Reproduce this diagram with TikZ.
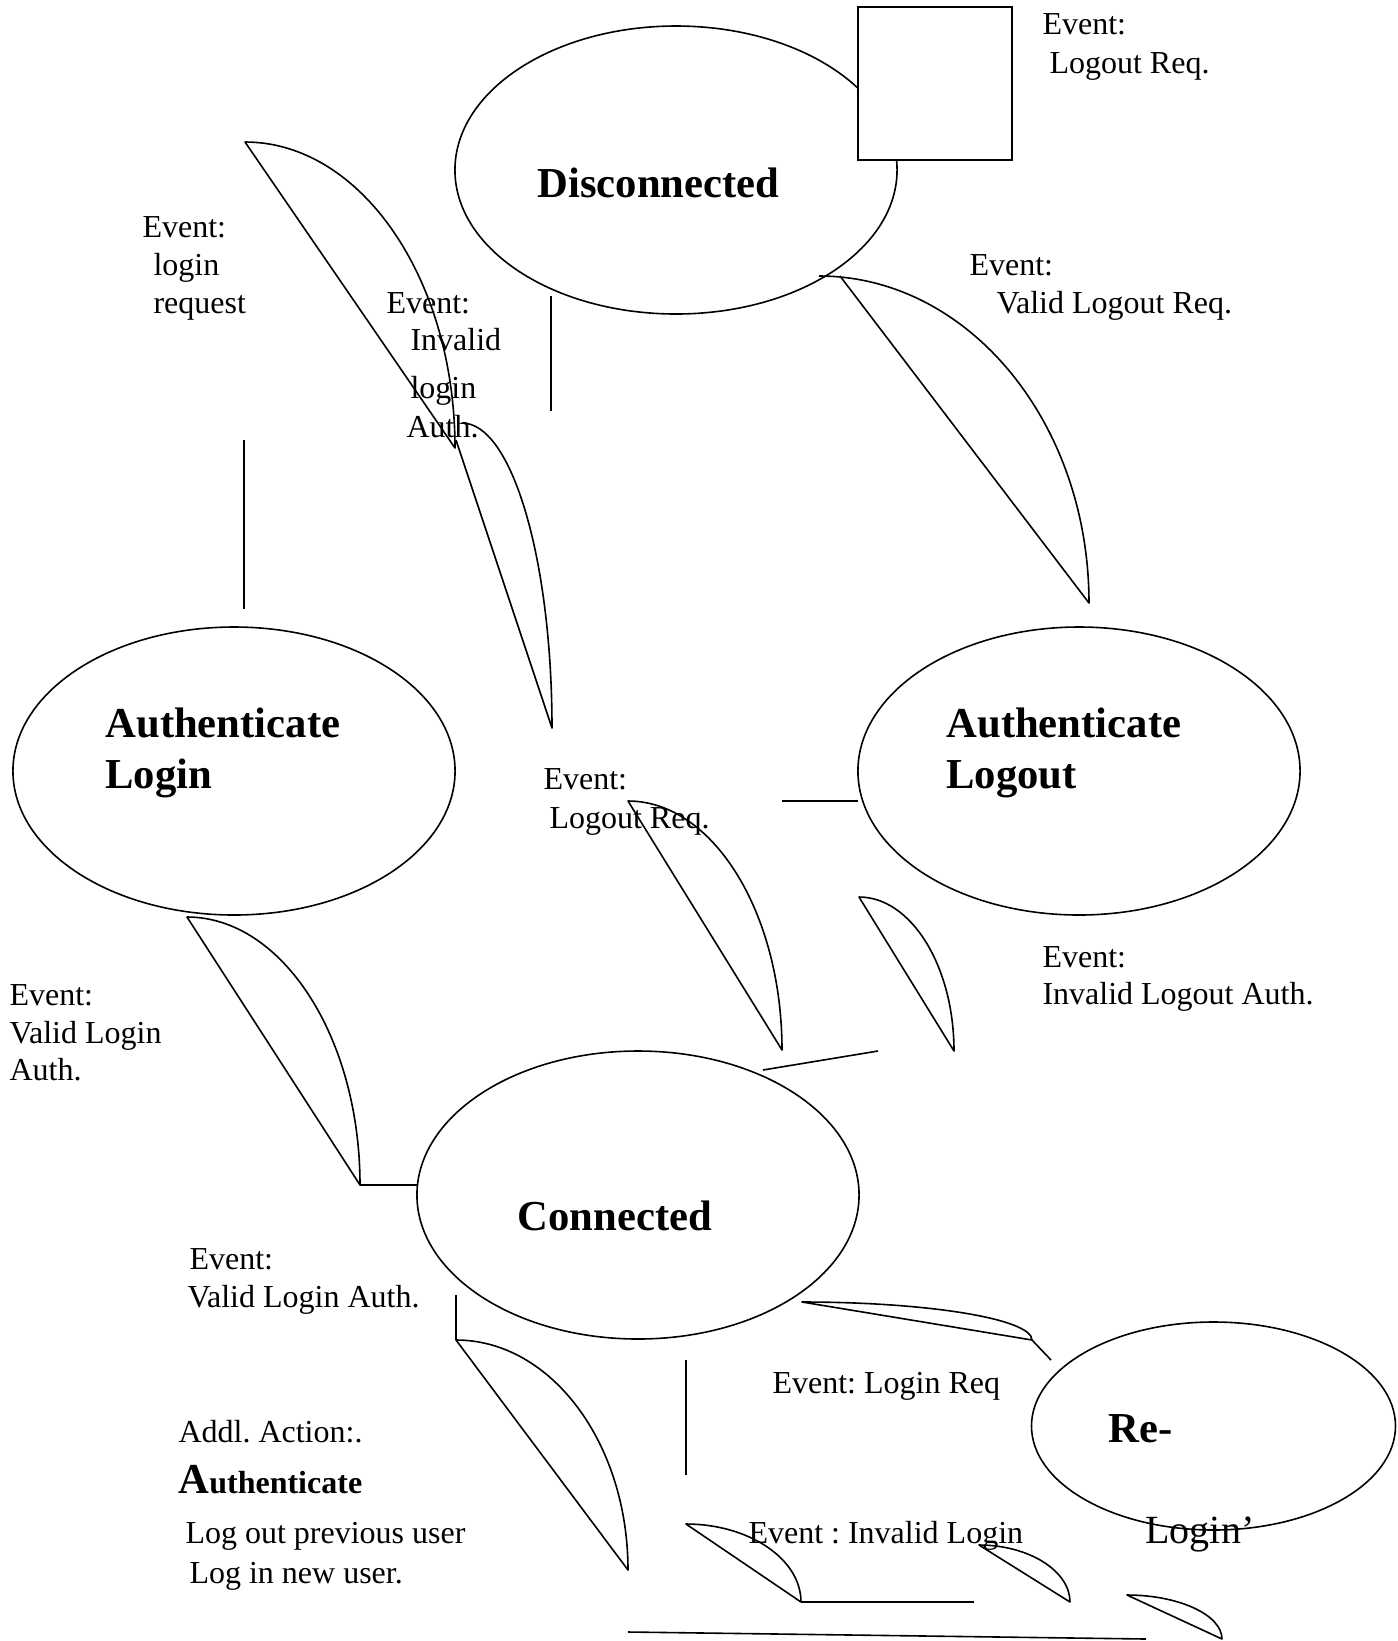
\documentclass[tikz,border=0pt]{standalone}
\usepackage{fontspec}
\setmainfont{Liberation Serif}
\frenchspacing
\usetikzlibrary{shapes.geometric}
\tikzset{
    state/.style = {ellipse, draw=black, line width=0.6pt, inner sep=0pt, minimum width=165.8pt, minimum height=108pt},
    smallstate/.style = {state, minimum width=136.5pt, minimum height=78pt},
    box/.style = {rectangle, draw=black, line width=0.6pt, fill=white, inner sep=0pt, minimum width=57.75pt, minimum height=57.4pt},
    evt/.style = {anchor=base west, inner sep=0pt, font=\fontsize{12}{14}\selectfont},
    stname/.style = {anchor=base west, inner sep=0pt, font=\fontsize{16}{19}\selectfont\bfseries},
    edgew/.style = {line width=0.6pt, line join=round}, % wedge
    edgel/.style = {line width=0.6pt} % plain line
}

\begin{document}
\begin{tikzpicture}[x=0.375pt, y=-0.375pt]
\useasboundingbox (0,0) rectangle (1398,1641);

% states
\node[state] at (676,170) (disc) {};
\node[box] at (935,83.5) (lobox) {};
\node[state] at (234,771) (alogin) {};
\node[state] at (1079,771) (alogout) {};
\node[state] at (638,1195) (conn) {};
\node[smallstate] at (1213.5,1426) (relog) {};

\node[stname] at (537,197) (disc-t) {Disconnected};
\node[stname] at (105,737) (alogin-t1) {Authenticate};
\node[stname] at (105,788) (alogin-t2) {Login};
\node[stname] at (946,737) (alogout-t1) {Authenticate};
\node[stname] at (946,788) (alogout-t2) {Logout};
\node[stname] at (517,1230) (conn-t) {Connected};
\node[stname] at (1108,1442) (relog-t1) {Re-};
\node[evt, font=\fontsize{15}{18}\selectfont] at (1145,1543) (relog-t2) {Login’};

% event texts
\node[evt] at (1042,34) (ev1a) {Event:};
\node[evt] at (1049,73) (ev1b) {Logout Req.};
\node[evt] at (142,237) (ev2a) {Event:};
\node[evt] at (153,275) (ev2b) {login};
\node[evt] at (153,313) (ev2c) {request};
\node[evt] at (386,313) (ev3a) {Event:};
\node[evt] at (410,350) (ev3b) {Invalid};
\node[evt] at (410,398) (ev3c) {login};
\node[evt] at (406,437) (ev3d) {Auth.};
\node[evt] at (969,275) (ev4a) {Event:};
\node[evt] at (996,313) (ev4b) {Valid Logout Req.};
\node[evt] at (543,789) (ev5a) {Event:};
\node[evt] at (549,828) (ev5b) {Logout Req.};
\node[evt] at (1042,967) (ev6a) {Event:};
\node[evt] at (1042,1004) (ev6b) {Invalid Logout Auth.};
\node[evt] at (9,1005) (ev7a) {Event:};
\node[evt] at (9,1043) (ev7b) {Valid Login};
\node[evt] at (9,1080) (ev7c) {Auth.};
\node[evt] at (189,1269) (ev8a) {Event:};
\node[evt] at (187,1307) (ev8b) {Valid Login Auth.};
\node[evt] at (178,1442) (act1) {Addl. Action:.};
\node[evt, font=\fontsize{12}{14}\selectfont\bfseries] at (178,1493) (act2) {{\fontsize{16}{19}\selectfont A}uthenticate};
\node[evt] at (185,1543) (act3) {Log out previous user};
\node[evt] at (189,1583) (act4) {Log in new user.};
\node[evt] at (772,1393) (ev9) {Event: Login Req};
\node[evt] at (748,1543) (ev10) {Event : Invalid Login};

% wedge ends
\coordinate (w1a) at (245,142);  \coordinate (w1b) at (455,448);
\coordinate (w2a) at (462,423);  \coordinate (w2c) at (456,440); \coordinate (w2b) at (552,728);
\coordinate (w3a) at (628,801);  \coordinate (w3b) at (782,1050);
\coordinate (w4a) at (859,897);  \coordinate (w4b) at (954,1051);
\coordinate (w5a) at (187,917);  \coordinate (w5b) at (360,1185);
\coordinate (w6a) at (456,1340); \coordinate (w6b) at (628,1570);
\coordinate (w7a) at (686,1524); \coordinate (w7b) at (801,1602);
\coordinate (w8a) at (979,1545); \coordinate (w8b) at (1070,1602);
\coordinate (w9a) at (1127,1595); \coordinate (w9b) at (1222,1639);
\coordinate (w10a) at (802,1302); \coordinate (w10b) at (1032,1340);
\coordinate (w11a) at (819,276); \coordinate (w11c) at (840,276); \coordinate (w11b) at (1089,603);

\draw[edgew] (w1a) .. controls +(116,0) and +(0,-169) .. (w1b) -- cycle;
\draw[edgew] (w2a) .. controls +(50,0) and +(0,-168) .. (w2b) -- (w2c);
\draw[edgew] (w3a) .. controls +(85,0) and +(0,-137) .. (w3b) -- cycle;
\draw[edgew] (w4a) .. controls +(52,0) and +(0,-85) .. (w4b) -- cycle;
\draw[edgew] (w5a) .. controls +(95,0) and +(0,-148) .. (w5b) -- cycle;
\draw[edgew] (w6a) .. controls +(95,0) and +(0,-127) .. (w6b) -- cycle;
\draw[edgew] (w7a) .. controls +(63,0) and +(0,-43) .. (w7b) -- cycle;
\draw[edgew] (w8a) .. controls +(50,0) and +(0,-31) .. (w8b) -- cycle;
\draw[edgew] (w9a) .. controls +(52,0) and +(0,-24) .. (w9b) -- cycle;
\draw[edgew] (w10a) .. controls +(127,0) and +(0,-21) .. (w10b) -- cycle;
\draw[edgew] (w11a) .. controls +(149,0) and +(0,-181) .. (w11b) -- (w11c);

% loose lines
\coordinate (l1a) at (551,296);  \coordinate (l1b) at (551,411);
\coordinate (l2a) at (244,440);  \coordinate (l2b) at (244,609);
\coordinate (l3a) at (782,801);  \coordinate (l3b) at (858,801);
\coordinate (l4a) at (763,1070); \coordinate (l4b) at (878,1051);
\coordinate (l5b) at (417,1185);
\coordinate (l6a) at (456,1295);
\coordinate (l7a) at (686,1360); \coordinate (l7b) at (686,1475);
\coordinate (l8b) at (974,1602);
\coordinate (l9a) at (628,1632); \coordinate (l9b) at (1146,1639);
\coordinate (l10b) at (1051,1360);

\draw[edgel] (l1a) -- (l1b);
\draw[edgel] (l2a) -- (l2b);
\draw[edgel] (l3a) -- (l3b);
\draw[edgel] (l4a) -- (l4b);
\draw[edgel] (w5b) -- (l5b);
\draw[edgel] (l6a) -- (w6a);
\draw[edgel] (l7a) -- (l7b);
\draw[edgel] (w7b) -- (l8b);
\draw[edgel] (l9a) -- (l9b);
\draw[edgel] (w10b) -- (l10b);

\end{tikzpicture}
\end{document}
